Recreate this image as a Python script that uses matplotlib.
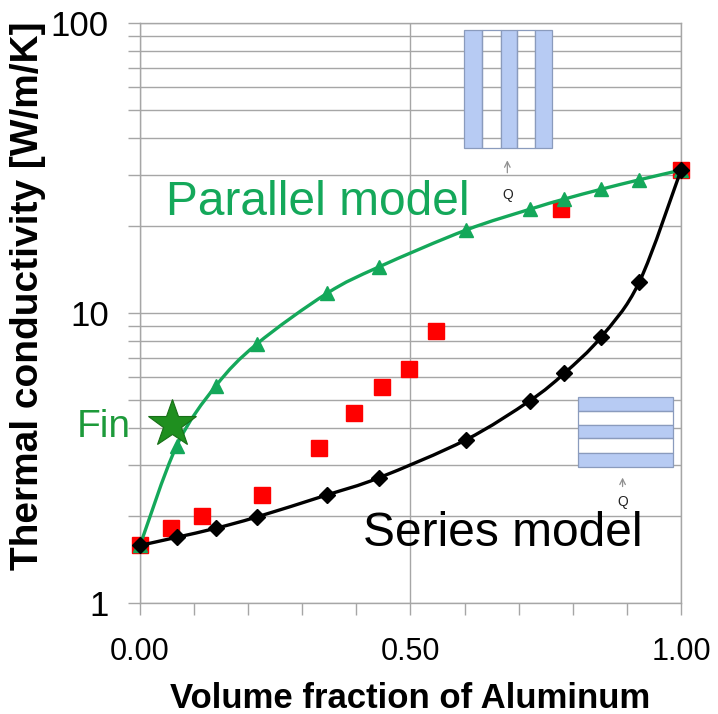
import numpy as np
import matplotlib
matplotlib.use("Agg")
import matplotlib.pyplot as plt
from matplotlib.path import Path
from matplotlib.patches import PathPatch, Rectangle
from matplotlib.ticker import FixedLocator, NullFormatter, FixedFormatter

plt.rcParams['font.family'] = ['Liberation Sans', 'DejaVu Sans']

# ---- data ----
fraction = [0.0, 0.068, 0.140, 0.216, 0.346, 0.441, 0.602, 0.721, 0.784, 0.852, 0.923, 1.0]
parallel_k = [1.58, 3.49, 5.6, 7.82, 11.7, 14.4, 19.3, 22.8, 24.7, 26.7, 28.8, 31.1]
series_k = [1.58, 1.685, 1.81, 1.98, 2.36, 2.70, 3.65, 4.99, 6.19, 8.25, 12.8, 31.1]

measured_x = [0.0, 0.057, 0.114, 0.226, 0.331, 0.396, 0.448, 0.498, 0.547, 0.778, 1.0]
measured_k = [1.58, 1.81, 2.0, 2.36, 3.42, 4.51, 5.57, 6.4, 8.69, 22.8, 31.1]

fin_x = [0.060]
fin_k = [4.14]

x_ticks = [0.0, 0.5, 1.0]
x_ticklabels = ["0.00", "0.50", "1.00"]
y_ticks = [1, 10, 100]
y_ticklabels = ["1", "10", "100"]

GREEN = '#14a85a'
GRID = '#a6a6a6'


def smooth_path(xs, ys):
    """Excel-like smoothed line: cubic Bezier through points in (x, log y)."""
    p = np.column_stack([np.asarray(xs, float), np.log10(ys)])
    n = len(p)
    verts = [p[0]]
    codes = [Path.MOVETO]
    for i in range(n - 1):
        p0 = p[i - 1] if i > 0 else p[i]
        p1 = p[i]
        p2 = p[i + 1]
        p3 = p[i + 2] if i + 2 < n else p[i + 1]
        c1 = p1 + (p2 - p0) / 6.0
        c2 = p2 - (p3 - p1) / 6.0
        verts += [c1, c2, p2]
        codes += [Path.CURVE4] * 3
    v = np.array(verts)
    v[:, 1] = 10 ** v[:, 1]
    return Path(v, codes)


fig = plt.figure(figsize=(7.18, 7.14), dpi=100)
ax = fig.add_axes([140 / 718, 111 / 714, 541 / 718, 580 / 714])
ax.set_yscale('log')
ax.set_xlim(0, 1)
ax.set_ylim(1, 100)

# grid
ax.yaxis.set_major_locator(FixedLocator(y_ticks))
ax.yaxis.set_major_formatter(FixedFormatter(y_ticklabels))
ax.yaxis.set_minor_locator(FixedLocator([m * 10 ** e for e in range(0, 2) for m in range(2, 10)]))
ax.yaxis.set_minor_formatter(NullFormatter())
ax.xaxis.set_major_locator(FixedLocator(x_ticks))
ax.xaxis.set_major_formatter(FixedFormatter(x_ticklabels))
ax.xaxis.set_minor_locator(FixedLocator([i / 10 for i in range(1, 10)]))
ax.grid(True, which='both', axis='y', color=GRID, lw=1.0)
ax.grid(True, which='major', axis='x', color=GRID, lw=1.0)
ax.set_axisbelow(True)
for s in ax.spines.values():
    s.set_color(GRID)
    s.set_linewidth(1.0)

ax.tick_params(axis='both', which='both', direction='out', length=8.5, width=1.0, color=GRID)
ax.tick_params(axis='y', which='major', labelsize=25, pad=14)
ax.tick_params(axis='x', which='major', labelsize=22, pad=16)

# measured points (red squares)
ax.plot(measured_x, measured_k, 's', color='#ff0000', ms=11, mec='#ff0000', zorder=3, clip_on=False)

# parallel model
ax.add_patch(PathPatch(smooth_path(fraction, parallel_k), fill=False, ec=GREEN, lw=2.4, zorder=4, clip_on=False))
ax.plot(fraction, parallel_k, '^', color=GREEN, ms=10, zorder=4, clip_on=False)

# series model
ax.add_patch(PathPatch(smooth_path(fraction, series_k), fill=False, ec='black', lw=2.4, zorder=5, clip_on=False))
ax.plot(fraction, series_k, 'D', color='black', ms=8, zorder=5, clip_on=False)

# fin star
ax.plot(fin_x, fin_k, '*', color='#1f8f1f', mec='#176e17', mew=0.8, ms=36, zorder=6)

# labels
fig.text(28 / 718, 1 - 296 / 714, 'Thermal conductivity [W/m/K]', rotation=90, fontsize=28,
         fontweight='bold', ha='center', va='center')
ax.set_xlabel('Volume fraction of Aluminum', fontsize=25, fontweight='bold', labelpad=11)

ax.text(0.048, 0.669, 'Parallel model', transform=ax.transAxes, color=GREEN, fontsize=34.5, va='baseline', ha='left')
ax.text(0.412, 0.098, 'Series model', transform=ax.transAxes, color='black', fontsize=34.5, va='baseline', ha='left')
ax.text(-0.1165, 0.286, 'Fin', transform=ax.transAxes, color='#1d9a3a', fontsize=28, va='baseline', ha='left')

# inset: parallel arrangement
BLUE = '#b7cbf3'
EDGE = '#8a9bbd'
xb = [0.5995, 0.6327, 0.6667, 0.6963, 0.7301, 0.7621]
for i in range(5):
    ax.add_patch(Rectangle((xb[i], 0.784), xb[i + 1] - xb[i], 0.988 - 0.784, transform=ax.transAxes,
                           fc=BLUE if i % 2 == 0 else 'none', ec=EDGE, lw=0.9, zorder=2))
ax.annotate('', xy=(0.679, 0.768), xytext=(0.679, 0.737), xycoords='axes fraction',
            arrowprops=dict(arrowstyle='->', color='#909090', lw=0.9))
ax.text(0.679, 0.703, 'Q', transform=ax.transAxes, fontsize=10, ha='center', va='center', color='#222222')

# inset: series arrangement
yb = [0.3557, 0.3316, 0.3069, 0.2840, 0.2591, 0.2350]
for i in range(5):
    ax.add_patch(Rectangle((0.810, yb[i + 1]), 0.9847 - 0.810, yb[i] - yb[i + 1], transform=ax.transAxes,
                           fc=BLUE if i % 2 == 0 else 'none', ec=EDGE, lw=0.9, zorder=2))
ax.annotate('', xy=(0.892, 0.221), xytext=(0.892, 0.196), xycoords='axes fraction',
            arrowprops=dict(arrowstyle='->', color='#909090', lw=0.9))
ax.text(0.892, 0.174, 'Q', transform=ax.transAxes, fontsize=10, ha='center', va='center', color='#222222')

fig.savefig('out.png', dpi=100, facecolor='white')
